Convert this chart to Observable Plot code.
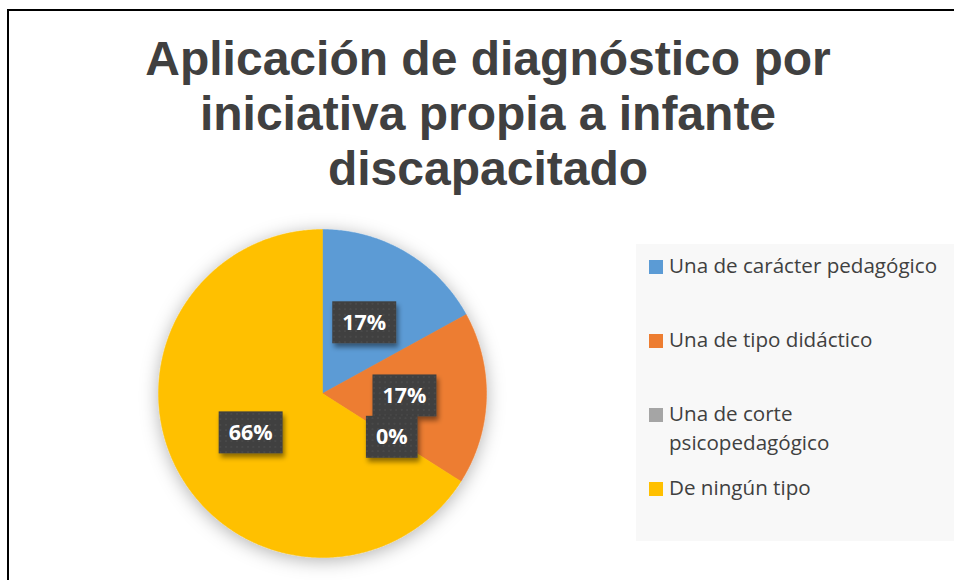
<!DOCTYPE html>
<html><head><meta charset="utf-8">
<script src="https://cdn.jsdelivr.net/npm/d3@7"></script>
<script src="https://cdn.jsdelivr.net/npm/@observablehq/plot@0.6"></script>
<style>
body{margin:0;background:#fff;}
#wrap{position:relative;width:954px;height:580px;overflow:hidden;background:#fff;}
#frame{position:absolute;left:7px;top:9px;width:1100px;height:800px;border-left:2px solid #000;border-top:2px solid #000;}
#title{position:absolute;left:0;width:976px;top:31px;text-align:center;font:bold 48px "Liberation Sans",Arial,sans-serif;color:#404040;line-height:55px;}
#legend{position:absolute;left:636px;top:244px;width:330px;height:297px;background:#f8f8f8;box-sizing:border-box;padding:7px 0 0 13px;font-family:"Open Sans",sans-serif;font-size:20.6px;line-height:29px;color:#404040;}
.item{display:flex;align-items:flex-start;height:29px;margin-bottom:45px;overflow:visible;}
.sw{width:14px;height:14px;flex:none;margin-top:9px;margin-right:6px;}
.lt{width:280px;}
#chart{position:absolute;left:122px;top:193px;}
</style></head>
<body>
<div id="wrap">
<div id="frame"></div>
<div id="title"></div>
<div id="chart"></div>
<div id="legend"></div>
</div>
<script>
const titleLines = ["Aplicación de diagnóstico por", "iniciativa propia a infante", "discapacitado"];
const categories = ["Una de carácter pedagógico", "Una de tipo didáctico", "Una de corte psicopedagógico", "De ningún tipo"];
const values = [17, 17, 0, 66];
const labels = ["17%", "17%", "0%", "66%"];
const colors = ["#5B9BD5", "#ED7D31", "#A5A5A5", "#FFC000"];

document.getElementById("title").innerHTML = titleLines.join("<br>");

const legend = d3.select("#legend");
categories.forEach((c, i) => {
  const it = legend.append("div").attr("class", "item");
  it.append("div").attr("class", "sw").style("background", colors[i]);
  it.append("div").attr("class", "lt").text(c);
});

const total = d3.sum(values);
let acc = 0;
const slices = categories.map((c, i) => {
  const a0 = acc / total * 2 * Math.PI;
  acc += values[i];
  const a1 = acc / total * 2 * Math.PI;
  return {c, i, a0, a1, v: values[i]};
});
const pts = [];
for (const s of slices) {
  if (s.a1 <= s.a0) continue;
  pts.push({c: s.c, x: 0, y: 0});
  const n = Math.max(2, Math.ceil((s.a1 - s.a0) / (Math.PI / 360)));
  for (let k = 0; k <= n; k++) {
    const a = s.a0 + (s.a1 - s.a0) * k / n;
    pts.push({c: s.c, x: Math.sin(a), y: Math.cos(a)});
  }
  pts.push({c: s.c, x: 0, y: 0});
}
const labelData = slices.map(s => {
  const m = (s.a0 + s.a1) / 2;
  return {c: s.c, t: labels[s.i], x: 0.5 * Math.sin(m), y: 0.5 * Math.cos(m)};
});

const plot = Plot.plot({
  width: 400, height: 400,
  marginTop: 36, marginBottom: 36, marginLeft: 36, marginRight: 36,
  x: {domain: [-1, 1], axis: null},
  y: {domain: [-1, 1], axis: null},
  color: {domain: categories, range: colors},
  style: {overflow: "visible", background: "transparent"},
  marks: [
    Plot.line(pts, {x: "x", y: "y", z: "c", fill: "c", stroke: "c", strokeWidth: 0.5, curve: "linear"}),
    Plot.text(labelData, {x: "x", y: "y", text: "t", fill: "white", fontSize: 21.5, fontWeight: "bold", fontFamily: "Open Sans, sans-serif"})
  ]
});
document.getElementById("chart").appendChild(plot);

const svg = d3.select(plot);
const defs = svg.insert("defs", ":first-child");
const f1 = defs.append("filter").attr("id", "pieShadow").attr("x", "-30%").attr("y", "-30%").attr("width", "160%").attr("height", "160%");
f1.append("feDropShadow").attr("dx", 0).attr("dy", 3).attr("stdDeviation", 9).attr("flood-color", "#000").attr("flood-opacity", 0.3);
const f2 = defs.append("filter").attr("id", "boxShadow").attr("x", "-30%").attr("y", "-30%").attr("width", "160%").attr("height", "160%");
f2.append("feDropShadow").attr("dx", 2).attr("dy", 4).attr("stdDeviation", 2.5).attr("flood-color", "#000").attr("flood-opacity", 0.45);
const pat = defs.append("pattern").attr("id", "dots").attr("patternUnits", "userSpaceOnUse").attr("width", 5.5).attr("height", 5.5);
pat.append("rect").attr("width", 5.5).attr("height", 5.5).attr("fill", "#404040");
pat.append("circle").attr("cx", 2.75).attr("cy", 2.75).attr("r", 0.9).attr("fill", "#4d4d4d");

svg.select('g[aria-label="line"]').attr("filter", "url(#pieShadow)");
svg.selectAll('g[aria-label="text"] text').each(function() {
  const b = this.getBBox();
  const cx = b.x + b.width / 2, cy = b.y + b.height / 2;
  const w = b.width + 20, h = 42;
  const tr = this.getAttribute("transform");
  const r = d3.select(this.parentNode).insert("rect", () => this)
    .attr("x", cx - w / 2).attr("y", cy - h / 2 + 1).attr("width", w).attr("height", h)
    .attr("fill", "url(#dots)").attr("filter", "url(#boxShadow)");
  if (tr) r.attr("transform", tr);
});
</script>
</body></html>
